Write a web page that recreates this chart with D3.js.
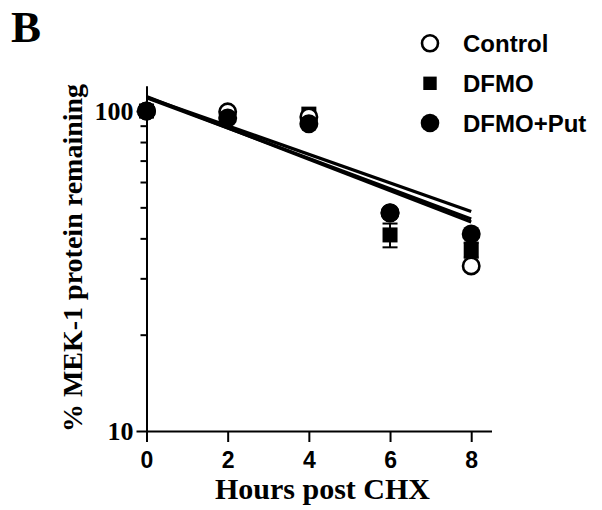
<!DOCTYPE html>
<html>
<head>
<meta charset="utf-8">
<script src="https://cdn.jsdelivr.net/npm/d3@7"></script>
<style>
  body { margin: 0; background: #fff; }
  svg { display: block; }
</style>
</head>
<body>
<div id="chart"></div>
<script>
// hours after cycloheximide
let times = [0, 2, 4, 6, 8];
let controlPct = [100, 99.4, 95.8, 48, 32.8];
let dfmoPct = [100, 97, 97.8, 41, 36.8];
let dfmoPutPct = [100, 95.1, 91.2, 48.1, 41.3];
let dfmoSem = [0, 0, 0, 3.5, 2];

// exponential fits: value at t=0 and at t=8
let fitNames = ["Control", "DFMO", "DFMO+Put"];
let fitStart = [111, 110, 110.5];
let fitEnd = [45, 46, 48.5];

let xTicks = [0, 2, 4, 6, 8];
let yMajor = [10, 100];
let yMinor = [20, 30, 40, 50, 60, 70, 80, 90];

let serif = "'Liberation Serif', 'Times New Roman', serif";
let sans = "'Liberation Sans', Arial, sans-serif";

let svg = d3.select('#chart')
    .append('svg')
    .attr('width', 602)
    .attr('height', 510);

let x = d3.scaleLinear().domain([0, 8.5]).range([146.5, 491.5]);
let y = d3.scaleLog().domain([10, 120]).range([431, 85.7]);

// panel letter
svg.append('text')
    .attr('x', 11)
    .attr('y', 41.5)
    .style('font-family', serif)
    .style('font-weight', 'bold')
    .style('font-size', '45px')
    .text('B');

// axes
let xAxis = svg.append('g')
    .attr('transform', 'translate(0,431)')
    .call(d3.axisBottom(x).tickValues(xTicks).tickSize(11).tickSizeOuter(0).tickPadding(10));
xAxis.selectAll('text')
    .style('font-family', sans)
    .style('font-weight', 'bold')
    .style('font-size', '23px')
    .attr('fill', '#000');

let yAxis = svg.append('g')
    .attr('transform', 'translate(146.5,0)')
    .call(d3.axisLeft(y).tickValues(yMajor).tickFormat(d3.format('d')).tickSize(10).tickSizeOuter(0).tickPadding(3));
yAxis.selectAll('text')
    .style('font-family', serif)
    .style('font-weight', 'bold')
    .style('font-size', '26px')
    .attr('fill', '#000');

svg.append('g')
    .attr('transform', 'translate(146.5,0)')
    .call(d3.axisLeft(y).tickValues(yMinor).tickFormat('').tickSize(6).tickSizeOuter(0))
    .select('.domain').remove();

svg.selectAll('.domain, .tick line')
    .attr('stroke', '#000')
    .attr('stroke-width', 2);

// axis titles
svg.append('text')
    .attr('x', 322.5)
    .attr('y', 499)
    .attr('text-anchor', 'middle')
    .style('font-family', serif)
    .style('font-weight', 'bold')
    .style('font-size', '30px')
    .text('Hours post CHX');

svg.append('text')
    .attr('transform', 'translate(82,258) rotate(-90)')
    .attr('text-anchor', 'middle')
    .style('font-family', serif)
    .style('font-weight', 'bold')
    .style('font-size', '28px')
    .text('% MEK-1 protein remaining');

// fit lines
fitNames.forEach(function (n, i) {
    svg.append('line')
        .attr('x1', x(0))
        .attr('y1', y(fitStart[i]))
        .attr('x2', x(8))
        .attr('y2', y(fitEnd[i]))
        .attr('stroke', '#000')
        .attr('stroke-width', 3.2);
});

// DFMO squares with error bars
times.forEach(function (t, i) {
    if (dfmoSem[i] > 0) {
        let top = y(dfmoPct[i] + dfmoSem[i]);
        let bot = y(dfmoPct[i] - dfmoSem[i]);
        svg.append('line')
            .attr('x1', x(t)).attr('x2', x(t))
            .attr('y1', top).attr('y2', bot)
            .attr('stroke', '#000').attr('stroke-width', 2);
        [top, bot].forEach(function (yy) {
            svg.append('line')
                .attr('x1', x(t) - 7.5).attr('x2', x(t) + 7.5)
                .attr('y1', yy).attr('y2', yy)
                .attr('stroke', '#000').attr('stroke-width', 2);
        });
    }
    svg.append('rect')
        .attr('x', x(t) - 7.5)
        .attr('y', y(dfmoPct[i]) - 7.5)
        .attr('width', 15)
        .attr('height', 15)
        .attr('fill', '#000');
});

// Control open circles
times.forEach(function (t, i) {
    svg.append('circle')
        .attr('cx', x(t))
        .attr('cy', y(controlPct[i]))
        .attr('r', 8.2)
        .attr('fill', '#fff')
        .attr('stroke', '#000')
        .attr('stroke-width', 2.6);
});

// DFMO+Put filled circles
times.forEach(function (t, i) {
    svg.append('circle')
        .attr('cx', x(t))
        .attr('cy', y(dfmoPutPct[i]))
        .attr('r', 9.5)
        .attr('fill', '#000');
});

// legend
let legY = [43.3, 83.3, 123];
let leg = svg.append('g');
leg.append('circle')
    .attr('cx', 430).attr('cy', legY[0]).attr('r', 8)
    .attr('fill', '#fff').attr('stroke', '#000').attr('stroke-width', 2.6);
leg.append('rect')
    .attr('x', 430 - 6.7).attr('y', legY[1] - 6.7)
    .attr('width', 13.4).attr('height', 13.4)
    .attr('fill', '#000');
leg.append('circle')
    .attr('cx', 430).attr('cy', legY[2]).attr('r', 9.3)
    .attr('fill', '#000');
fitNames.forEach(function (n, i) {
    leg.append('text')
        .attr('x', 463)
        .attr('y', legY[i] + 8.5)
        .style('font-family', sans)
        .style('font-weight', 'bold')
        .style('font-size', '24px')
        .text(n);
});
</script>
</body>
</html>
